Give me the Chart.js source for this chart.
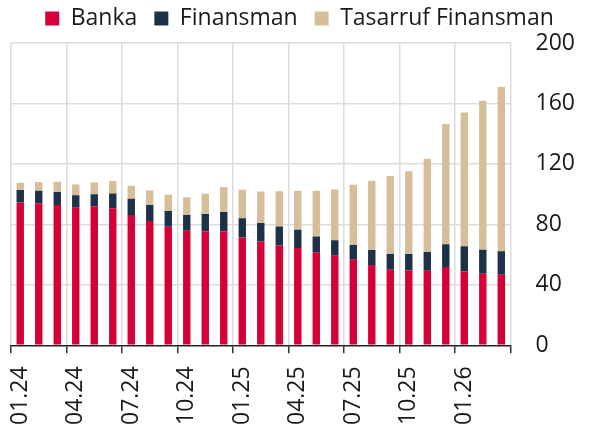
<!DOCTYPE html>
<html>
<head>
<meta charset="utf-8">
<script src="https://cdn.jsdelivr.net/npm/chart.js@4/dist/chart.umd.min.js"></script>
<style>
html,body{margin:0;padding:0;background:#fff;}
#wrap{width:591px;height:430px;position:relative;}
</style>
</head>
<body>
<div id="wrap"><canvas id="c" width="591" height="430"></canvas></div>
<script>
const categories = ["01.24","02.24","03.24","04.24","05.24","06.24","07.24","08.24","09.24","10.24","11.24","12.24",
  "01.25","02.25","03.25","04.25","05.25","06.25","07.25","08.25","09.25","10.25","11.25","12.25",
  "01.26","02.26","03.26"];
const banka = [94.5,94,92.9,91.1,92,90.7,86.2,82.2,78.4,75.8,75.3,75.3,71.3,68.7,66,64.4,61.6,59.3,56.7,53.1,50,49.6,49.3,51.8,48.9,47.3,46.7];
const finansman = [8.2,8.2,8.6,8.2,8,9.7,10.7,10.7,10.5,10.4,11.6,12.9,12.7,12.2,12.7,12,10.4,10.3,9.7,9.9,10.4,10.8,12.5,15.1,16.7,16,15.5];
const tasarrufFinansman = [4.8,5.8,6.7,7.1,7.8,8.3,8.7,9.5,10.7,11.8,13.3,16.5,18.9,20.9,23.3,25.8,30.2,33.5,39.8,45.9,51.6,54.7,61.7,79.5,88.4,98.5,108.7];
const yTicks = [0,40,80,120,160,200];

const FONT = "'Open Sans', sans-serif";
const shown = ctx => ctx.index === undefined || ctx.index % 3 === 0;

const legendPad = {
  id: 'legendPad',
  beforeLayout(chart) {
    const lg = chart.legend;
    if (lg && !lg._patched) {
      const f = lg.fit;
      lg.fit = function () { f.call(this); this.height += 3; };
      lg._patched = true;
    }
  },
  afterLayout(chart) {
    const lg = chart.legend;
    if (lg) { lg.left -= 6; lg.right -= 6; }
  }
};

new Chart(document.getElementById('c'), {
  type: 'bar',
  data: {
    labels: categories,
    datasets: [
      {label: 'Banka', data: banka, backgroundColor: '#d40037'},
      {label: 'Finansman', data: finansman, backgroundColor: '#1c3249'},
      {label: 'Tasarruf Finansman', data: tasarrufFinansman, backgroundColor: '#d5be99'}
    ]
  },
  plugins: [legendPad],
  options: {
    responsive: false,
    animation: false,
    layout: {padding: {left: 11, right: -9, top: -10, bottom: -8}},
    datasets: {bar: {categoryPercentage: 1, barPercentage: 0.4}},
    plugins: {
      legend: {
        position: 'top',
        labels: {boxWidth: 14, boxHeight: 14, padding: 17, color: '#1a1a1a', font: {family: FONT, size: 23}}
      },
      tooltip: {enabled: false}
    },
    scales: {
      x: {
        stacked: true,
        offset: true,
        grid: {
          offset: true,
          color: ctx => shown(ctx) ? '#dcdcdc' : 'rgba(0,0,0,0)',
          tickColor: ctx => shown(ctx) ? '#333' : 'rgba(0,0,0,0)',
          tickLength: 8,
          lineWidth: 1.5
        },
        border: {color: '#222', width: 1.5},
        ticks: {
          autoSkip: false, maxRotation: 90, minRotation: 90, padding: 13,
          color: '#1a1a1a', font: {family: FONT, size: 23},
          callback: (v, i) => i % 3 === 0 ? categories[i] : ''
        }
      },
      y: {
        stacked: true,
        position: 'right',
        min: 0, max: 200,
        afterBuildTicks: s => { s.ticks = yTicks.map(v => ({value: v})); },
        grid: {
          drawTicks: false,
          color: ctx => ctx.tick && ctx.tick.value === 0 ? 'rgba(0,0,0,0)' : '#dcdcdc',
          lineWidth: 1.5
        },
        border: {display: false},
        ticks: {padding: 25, color: '#1a1a1a', font: {family: FONT, size: 23}}
      }
    }
  }
});
</script>
</body>
</html>
